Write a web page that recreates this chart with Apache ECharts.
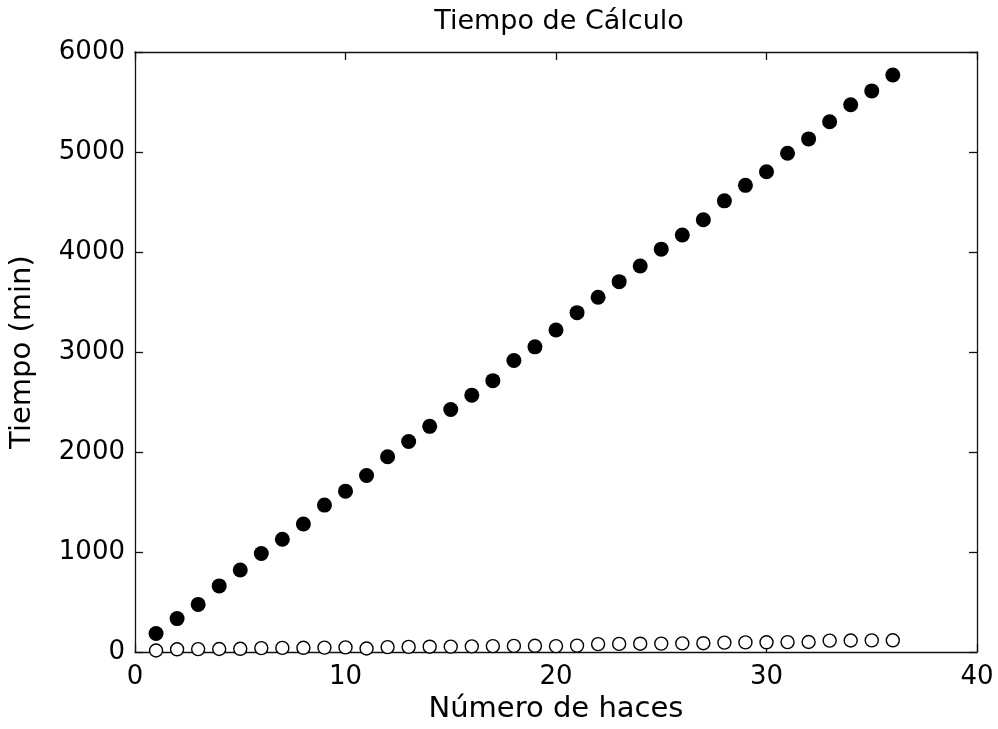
<!DOCTYPE html>
<html><head><meta charset="utf-8">
<script src="https://cdn.jsdelivr.net/npm/echarts@6/dist/echarts.min.js"></script>
<style>html,body{margin:0;padding:0;background:#fff}#c{width:998px;height:729px}</style>
</head><body><div id="c"></div>
<script>
const haces = Array.from({length:36},(_,i)=>i+1);
const tiempoLleno = [186,335,477,662,821,986,1129,1281,1470,1609,1765,1953,2105,2257,2426,2569,2714,2915,3052,3221,3394,3548,3704,3860,4029,4171,4323,4512,4667,4803,4988,5131,5303,5472,5611,5770];
const tiempoVacio = [16,28,30,31,33,40,42,43,45,47,36,50,52,54,55,57,60,62,63,60,65,80,82,84,85,87,89,95,97,98,100,101,115,116,117,118];
const titulo = 'Tiempo de Cálculo';
const ejeX = 'Número de haces';
const ejeY = 'Tiempo (min)';

const font = 'DejaVu Sans, sans-serif';
const chart = echarts.init(document.getElementById('c'));
const axLine = {show:true, onZero:false, lineStyle:{color:'#111', width:1.3}};
const tick = {show:true, inside:true, length:8, lineStyle:{color:'#111', width:1.3}};
chart.setOption({
  animation:false,
  backgroundColor:'#fff',
  title:{text:titulo, left:554, top:3, textAlign:'center', textStyle:{fontFamily:font, fontSize:27, fontWeight:'normal', color:'#000'}},
  grid:{left:135, right:21, top:52, bottom:73, containLabel:false},
  xAxis:[
    {type:'value', min:0, max:40, interval:10, axisLine:axLine, axisTick:tick, splitLine:{show:false},
     axisLabel:{fontFamily:font, fontSize:26, color:'#000', margin:12},
     name:ejeX, nameLocation:'middle', nameGap:40, nameTextStyle:{fontFamily:font, fontSize:29, color:'#000'}},
    {type:'value', position:'top', min:0, max:40, interval:10, axisLine:axLine, axisTick:tick, splitLine:{show:false}, axisLabel:{show:false}}
  ],
  yAxis:[
    {type:'value', min:0, max:6000, interval:1000, axisLine:axLine, axisTick:tick, splitLine:{show:false},
     axisLabel:{fontFamily:font, fontSize:26, color:'#000', margin:10, formatter:v=>String(v)},
     name:ejeY, nameLocation:'middle', nameGap:98, nameTextStyle:{fontFamily:font, fontSize:29, color:'#000'}},
    {type:'value', position:'right', min:0, max:6000, interval:1000, axisLine:axLine, axisTick:tick, splitLine:{show:false}, axisLabel:{show:false}}
  ],
  series:[
    {type:'scatter', data:haces.map((h,i)=>[h,tiempoVacio[i]]), symbol:'circle', symbolSize:13,
     itemStyle:{color:'#fff', borderColor:'#000', borderWidth:1.4, opacity:1}},
    {type:'scatter', data:haces.map((h,i)=>[h,tiempoLleno[i]]), symbol:'circle', symbolSize:15,
     itemStyle:{color:'#000', borderColor:'#000', borderWidth:0, opacity:1}}
  ]
});
</script></body></html>
